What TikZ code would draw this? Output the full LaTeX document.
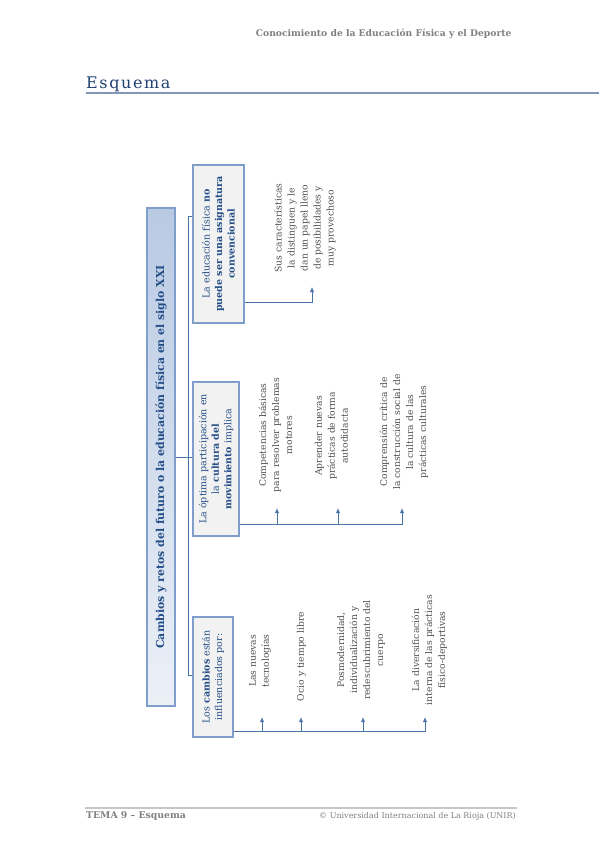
\documentclass[tikz,border=0pt]{standalone}
\usepackage{fontspec}
\setmainfont{DejaVu Serif}
\usetikzlibrary{arrows.meta}

\definecolor{azul}{RGB}{36,78,136}
\definecolor{azultitulo}{RGB}{31,64,113}
\definecolor{borde}{RGB}{127,158,204}
\definecolor{conector}{RGB}{74,115,168}
\definecolor{fondo}{RGB}{242,242,242}
\definecolor{texto}{RGB}{80,80,80}
\definecolor{grisclaro}{RGB}{128,128,128}
\definecolor{regla}{RGB}{128,150,180}

\begin{document}
\begin{tikzpicture}[x=1pt, y=-1pt,
		caja/.style={draw=borde, line width=1.2pt, fill=fondo, rotate=90, align=center, text=azul, inner sep=2pt, font=\fontsize{9.5}{12.5}\selectfont},
		hoja/.style={rotate=90, align=center, text=texto, font=\fontsize{9.2}{13}\selectfont},
		linea/.style={draw=conector, line width=0.9pt},
		flecha/.style={linea, -{Latex[length=5pt,width=4.5pt]}}]
		\useasboundingbox (0,0) rectangle (599,848);
		
		% cabecera y pie
		\node (cabecera) [anchor=east, text=grisclaro, font=\bfseries\fontsize{9.2}{11}\selectfont] at (515,34) {Conocimiento de la Educación Física y el Deporte};
		\node (titulo) [anchor=base west, inner sep=0pt, text=azultitulo, font=\fontsize{16}{19}\selectfont\addfontfeatures{LetterSpace=10}] at (86,89) {Esquema};
		\draw[regla, line width=1.5pt] (86,93) -- (599,93);
		\draw[black!22, line width=1.2pt] (85,808) -- (517,808);
		\node (tema) [anchor=west, inner sep=0pt, text=grisclaro, font=\bfseries\fontsize{9.3}{11}\selectfont] at (86,816) {TEMA 9 – Esquema};
		\node (unir) [anchor=east, inner sep=0pt, text=grisclaro, font=\fontsize{8}{10}\selectfont] at (516,816) {© Universidad Internacional de La Rioja (UNIR)};
		
		% cajas
		\node (futuro) [draw=borde, line width=1.2pt, rotate=90, top color=borde!55, bottom color=borde!15, minimum width=498pt, minimum height=28pt, inner sep=0pt, text=azul, font=\bfseries\fontsize{10.9}{12}\selectfont] at (161,457) {Cambios y retos del futuro o la educación física en el siglo XXI};
		\node (asig) [caja, minimum width=158pt, minimum height=51pt] at (218.5,244) {La educación física \textbf{no}\\ \textbf{puede ser una asignatura}\\ \textbf{convencional}};
		\node (cultura) [caja, minimum width=154pt, minimum height=46pt] at (216,459) {La óptima participación en\\ la \textbf{cultura del}\\ \textbf{movimiento} implica};
		\node (cambios) [caja, minimum width=120pt, minimum height=40pt] at (213,677) {Los \textbf{cambios} están\\ influenciados por:};
		
		% textos
		\node (sus) [hoja] at (305,228) {Sus características\\ la distinguen y le\\ dan un papel lleno\\ de posibilidades y\\ muy provechoso};
		\node (competencias) [hoja] at (275.5,435) {Competencias básicas\\ para resolver problemas\\ motores};
		\node (aprender) [hoja] at (331.5,436) {Aprender nuevas\\ prácticas de forma\\ autodidacta};
		\node (critica) [hoja] at (404,432) {Comprensión crítica de\\ la construcción social de\\ la cultura de las\\ prácticas culturales};
		\node (tecno) [hoja] at (260,661) {Las nuevas\\ tecnologías};
		\node (ocio) [hoja] at (301.5,656.5) {Ocio y tiempo libre};
		\node (posmo) [hoja] at (361,650) {Posmodernidad,\\ individualización y\\ redescubrimiento del\\ cuerpo};
		\node (diversa) [hoja] at (429.5,650) {La diversificación\\ interna de las prácticas\\ físico-deportivas};
		
		\coordinate (p-sus) at (312,287);
		\coordinate (p-comp) at (277,508);
		\coordinate (p-apr) at (338,508);
		\coordinate (p-crit) at (402,508);
		\coordinate (p-tec) at (262,717);
		\coordinate (p-ocio) at (301,717);
		\coordinate (p-pos) at (363,717);
		\coordinate (p-div) at (425,717);
		
		\draw[linea] (futuro.south) -- (futuro.south -| cultura.north);
		\draw[linea] (asig.north |- 0,216) -- ++(-4,0) |- (cambios.north |- 0,675);
		\draw[flecha] (asig.south |- 0,302) -| (p-sus);
		\draw[flecha] (cultura.south |- 0,524) -| (p-crit);
		\draw[flecha] (p-comp |- 0,524) -- (p-comp);
		\draw[flecha] (p-apr |- 0,524) -- (p-apr);
		\draw[flecha] (cambios.south |- 0,731) -| (p-div);
		\draw[flecha] (p-tec |- 0,731) -- (p-tec);
		\draw[flecha] (p-ocio |- 0,731) -- (p-ocio);
		\draw[flecha] (p-pos |- 0,731) -- (p-pos);
	\end{tikzpicture}
\end{document}
